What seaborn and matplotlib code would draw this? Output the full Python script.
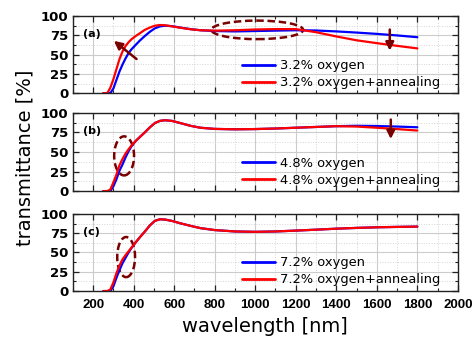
import numpy as np
import pandas as pd
import matplotlib
matplotlib.use("Agg")
import matplotlib.pyplot as plt
import seaborn as sns
from matplotlib.patches import Ellipse
from matplotlib.ticker import MultipleLocator

# ---------------- data ----------------
wavelength = [250, 270, 285, 300, 315, 330, 345, 360, 375, 390, 410, 430, 455, 480,
              505, 530, 555, 590, 630, 680, 730, 800, 900, 1000, 1100, 1200, 1300,
              1400, 1500, 1600, 1700, 1800]

a_oxygen = [0, 0, 0, 6, 17, 28, 37, 45, 52, 57, 62.5, 68, 74, 79.5,
            84, 86.5, 87.4, 86.8, 85, 83, 81.5, 80.5, 80, 80.5, 81, 81.5, 81.2,
            80, 78.5, 76.8, 74.8, 72.5]
a_annealed = [0, 0, 7, 18, 31, 44, 54, 61, 66, 70, 74, 77.5, 82, 85,
              87.4, 88.3, 88, 86.5, 84.8, 82.8, 81.5, 81, 81.5, 82.5, 83, 83, 79,
              73.5, 68.5, 64.8, 61.3, 58]

b_oxygen = [0, 0, 0, 6, 15, 26, 34, 43, 51, 57.5, 64, 69, 75, 81.5,
            87, 89.8, 90.6, 89.7, 87, 83.5, 81, 79.5, 79, 79.3, 80, 81, 82,
            83, 83.5, 83.2, 82.5, 81.6]
b_annealed = [0, 0, 2, 11, 21, 33, 41, 48, 53.5, 58.5, 64, 69, 75, 81.5,
              87, 89.8, 90.6, 89.7, 87, 83.5, 81, 79.5, 79, 79.3, 80, 81, 82,
              83, 82.5, 81, 79.3, 77.4]

c_oxygen = [0, 0, 0, 6, 17, 27, 36, 43, 50, 56, 63, 69.5, 77, 85,
            91, 93, 92.6, 90.8, 87.8, 84.5, 81.5, 79, 77.2, 76.7, 77.2, 78.3, 79.5,
            80.8, 81.8, 82.6, 83.1, 83.5]
c_annealed = [0, 0, 2, 11, 23, 33, 41, 46.5, 51.5, 56.5, 63, 69.5, 77, 85,
              91, 93, 92.6, 90.8, 87.8, 84.5, 81.5, 79, 77.2, 76.7, 77.2, 78.3, 79.5,
              80.8, 81.8, 82.6, 83.1, 83.5]

panel_tags = ["(a)", "(b)", "(c)"]
series_labels = [["3.2% oxygen", "3.2% oxygen+annealing"],
                 ["4.8% oxygen", "4.8% oxygen+annealing"],
                 ["7.2% oxygen", "7.2% oxygen+annealing"]]
panel_values = [(a_oxygen, a_annealed), (b_oxygen, b_annealed), (c_oxygen, c_annealed)]

x_label = "wavelength [nm]"
y_label = "transmittance [%]"

# ---------------- style ----------------
sns.set_theme(style="ticks")
plt.rcParams['font.family'] = ['DejaVu Sans']
plt.rcParams['axes.edgecolor'] = '#222222'
plt.rcParams['axes.linewidth'] = 1.0
plt.rcParams['text.color'] = 'black'
plt.rcParams['xtick.color'] = '#222222'
plt.rcParams['ytick.color'] = '#222222'

BLUE = '#0000ff'
RED = '#ff0000'
DARK = '#7a0000'

fig = plt.figure(figsize=(4.73, 3.40), dpi=100)
rects = [[0.154, 0.726, 0.814, 0.227],
         [0.154, 0.438, 0.814, 0.230],
         [0.154, 0.144, 0.814, 0.227]]
legend_y = [0.05, 0.055, 0.06]

axes = []
for i, rect in enumerate(rects):
    ax = fig.add_axes(rect)
    axes.append(ax)
    ox, an = panel_values[i]
    df = pd.DataFrame({
        'wl': wavelength * 2,
        'T': list(ox) + list(an),
        'series': [series_labels[i][0]] * len(wavelength) + [series_labels[i][1]] * len(wavelength),
    })
    sns.lineplot(data=df, x='wl', y='T', hue='series', palette=[BLUE, RED],
                 linewidth=1.6, ax=ax, estimator=None, sort=False)
    ax.set_xlim(100, 2000)
    ax.set_ylim(0, 100)
    ax.xaxis.set_major_locator(MultipleLocator(200))
    ax.xaxis.set_minor_locator(MultipleLocator(100))
    ax.yaxis.set_major_locator(MultipleLocator(25))
    ax.yaxis.set_minor_locator(MultipleLocator(12.5))
    ax.set_axisbelow(True)
    ax.grid(which='major', color='#cccccc', lw=0.8, ls='-')
    ax.grid(which='minor', color='#d4d4d4', lw=0.7, ls=':')
    ax.tick_params(which='both', direction='in', top=True, right=True)
    ax.tick_params(which='major', length=4, width=0.9)
    ax.tick_params(which='minor', length=2.5, width=0.8)
    ax.tick_params(axis='y', pad=3, labelsize=9.5, labelcolor='black')
    ax.tick_params(axis='x', pad=6, labelsize=9.5, labelcolor='black')
    for lab in ax.get_yticklabels():
        lab.set_fontweight('bold')
    if i < 2:
        ax.set_xticklabels([])
    else:
        for lab in ax.get_xticklabels():
            lab.set_fontweight('bold')
            lab.set_family(['Liberation Sans', 'DejaVu Sans'])
    ax.set_xlabel('')
    ax.set_ylabel('')
    handles, labels = ax.get_legend_handles_labels()
    for h in handles:
        h.set_linewidth(2)
    ax.legend(handles, labels, loc='lower left', bbox_to_anchor=(0.44, legend_y[i]),
              frameon=False, fontsize=9.4, handlelength=2.5, handletextpad=0.4,
              labelspacing=0.3, borderpad=0, borderaxespad=0, labelcolor='black')
    ax.text(0.026, 0.77, panel_tags[i], transform=ax.transAxes, fontsize=8,
            fontweight='bold', va='center', ha='left')

# annotations
arrow_kw = dict(arrowstyle='-|>', color=DARK, lw=1.8, mutation_scale=12)
axes[0].annotate('', xy=(292, 70), xytext=(425, 42), arrowprops=arrow_kw)
axes[0].annotate('', xy=(1664, 51.5), xytext=(1664, 86), arrowprops=arrow_kw)
axes[1].annotate('', xy=(1669, 63), xytext=(1669, 95), arrowprops=arrow_kw)

ell_kw = dict(fill=False, edgecolor=DARK, lw=1.8, ls=(0, (3, 1.5)))
axes[0].add_patch(Ellipse((1010, 82), 453, 24, **ell_kw))
axes[1].add_patch(Ellipse((353, 45), 98, 50, **ell_kw))
axes[2].add_patch(Ellipse((363, 44), 88, 52, **ell_kw))

fig.text(0.56, 0.012, x_label, ha='center', va='bottom', fontsize=14)
fig.text(0.032, 0.535, y_label, ha='left', va='center', rotation=90, fontsize=14)

fig.savefig('out.png', dpi=100)
